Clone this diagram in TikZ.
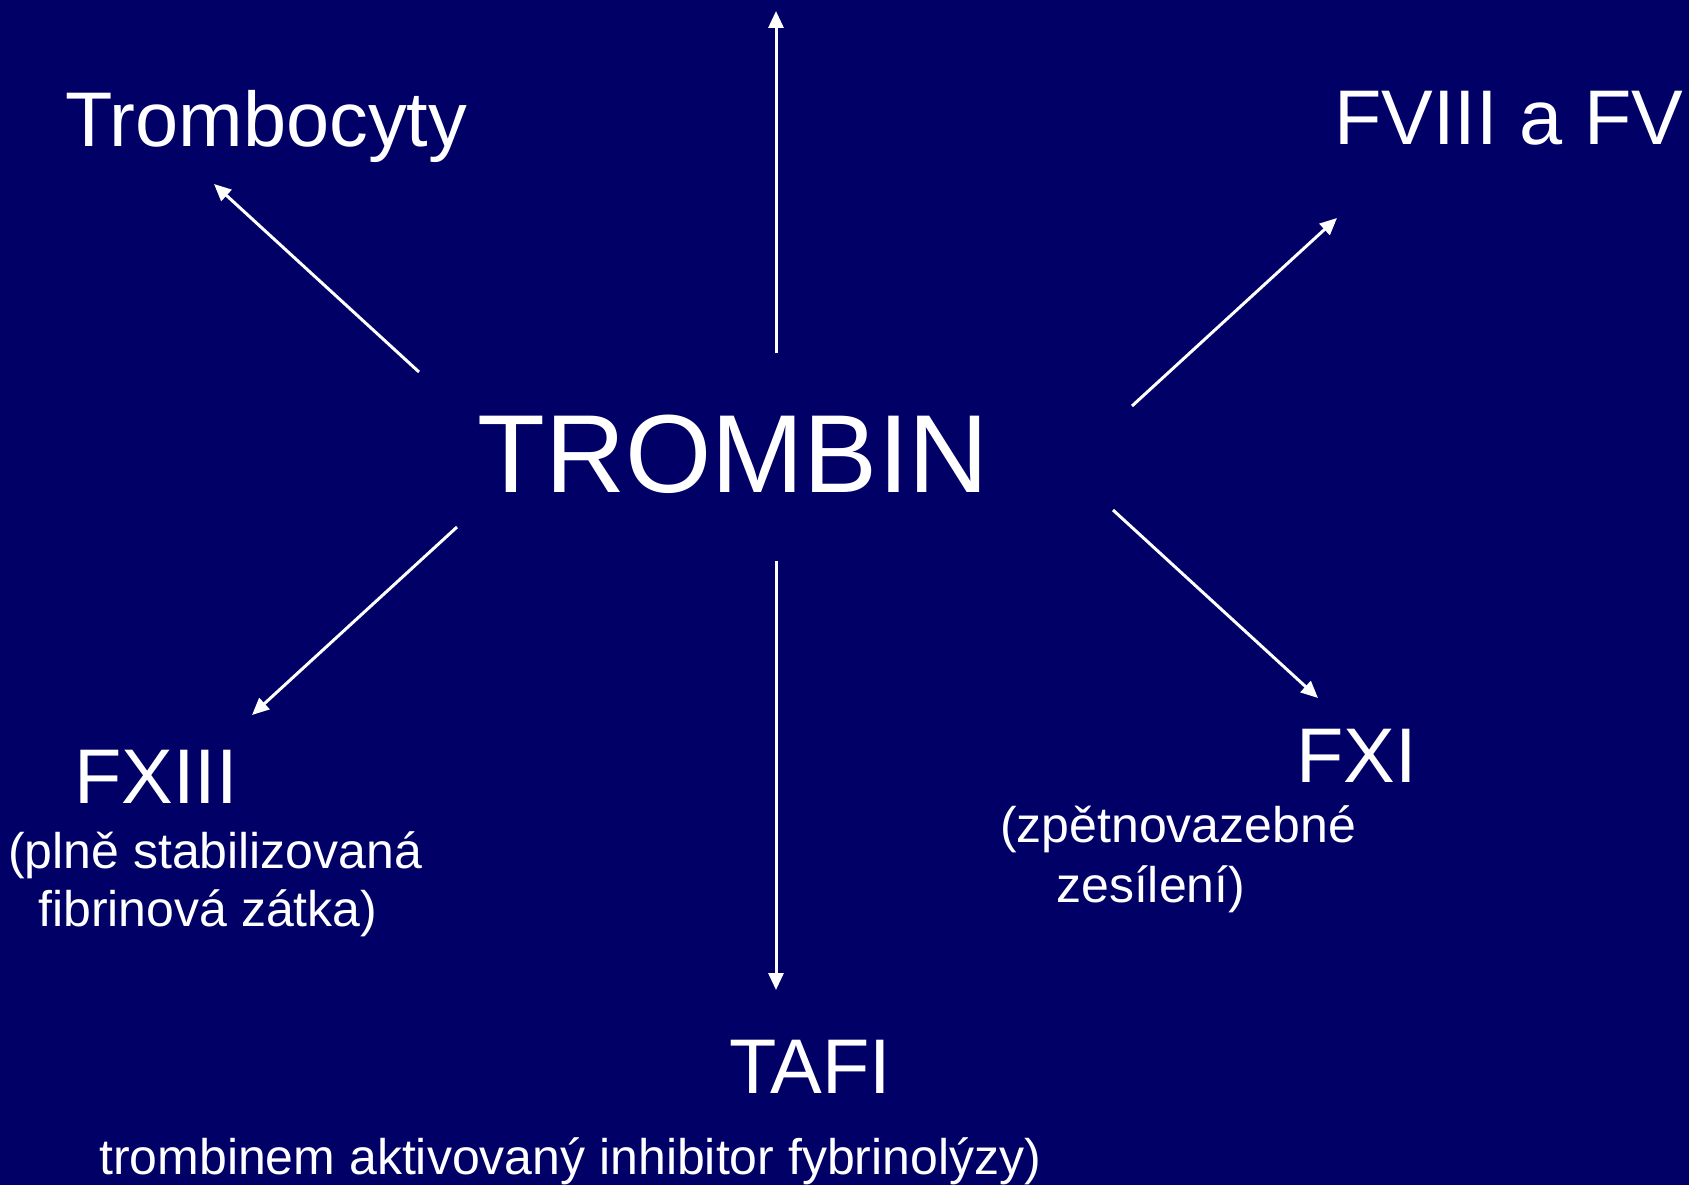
\documentclass[tikz,border=0pt]{standalone}
\usepackage{fontspec}
\setmainfont{Liberation Sans}
\usetikzlibrary{arrows.meta}
\definecolor{slidebg}{RGB}{0,0,102}
\tikzset{
	label/.style={text=white,inner sep=0pt,anchor=base west,font=\fontsize{77.5}{80}\selectfont},
	note/.style={text=white,inner sep=0pt,anchor=base west,font=\fontsize{50}{56}\selectfont},
	link/.style={draw=white,line width=3pt,-{Triangle[length=17pt,width=15pt]}}
}
\begin{document}
\begin{tikzpicture}[x=1pt,y=-1pt]
		\fill[slidebg] (0,0) rectangle (1689,1185);
		\useasboundingbox (0,0) rectangle (1689,1185);
		\node[label,font=\fontsize{111}{120}\selectfont] (trombin) at (477,492) {TROMBIN};
		\node[label] (trombocyty) at (65,147) {Trombocyty};
		\node[label] (fviii) at (1334,145) {FVIII a FV};
		\node[label] (fxiii) at (74,803) {FXIII};
		\node[note] (plne) at (8,868) {(plně stabilizovaná};
		\node[note] (fibrin) at (38,926) {fibrinová zátka)};
		\node[label] (fxi) at (1296,782) {FXI};
		\node[note] (zpet) at (1000,842) {(zpětnovazebné};
		\node[note] (zesil) at (1056,902) {zesílení)};
		\node[label] (tafi) at (729,1093) {TAFI};
		\node[note] (inhib) at (99,1174) {trombinem aktivovaný inhibitor fybrinolýzy)};
		\coordinate (N0) at (776,353);  \coordinate (N1) at (776,11);
		\coordinate (NW0) at (419,372); \coordinate (NW1) at (214,184);
		\coordinate (NE0) at (1132,406); \coordinate (NE1) at (1337,218);
		\coordinate (SW0) at (457,527); \coordinate (SW1) at (252,715);
		\coordinate (SE0) at (1113,510); \coordinate (SE1) at (1318,698);
		\coordinate (S0) at (776,561);  \coordinate (S1) at (776,990);
		\foreach \d in {N,NW,NE,SW,SE,S}
		\draw[link] (\d0) -- (\d1);

	    \end{tikzpicture}
\end{document}
